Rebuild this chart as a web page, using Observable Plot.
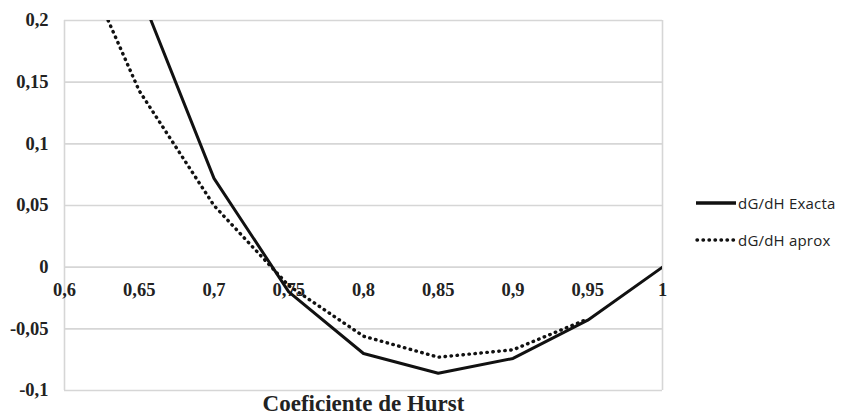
<!DOCTYPE html>
<html>
<head>
<meta charset="utf-8">
<script src="https://cdn.jsdelivr.net/npm/d3@7"></script>
<script src="https://cdn.jsdelivr.net/npm/@observablehq/plot@0.6"></script>
<style>
  html, body { margin: 0; padding: 0; background: #fff; }
  #wrap { position: relative; width: 843px; height: 415px; }
  #legend { position: absolute; left: 695px; top: 184px; font-family: "Open Sans", sans-serif; font-size: 15px; letter-spacing: 0.2px; color: #222; }
  #legend .row { display: flex; align-items: center; height: 37px; }
  #legend svg { margin-right: 1px; }
</style>
</head>
<body>
<div id="wrap"></div>
<script>
const hurst = [0.6, 0.65, 0.7, 0.75, 0.8, 0.85, 0.9, 0.95, 1];
const exactaX = [0.65, 0.7, 0.75, 0.8, 0.85, 0.9, 0.95, 1];
const exacta = [0.224, 0.072, -0.02, -0.070, -0.086, -0.074, -0.043, 0];
const aproxX = [0.6, 0.65, 0.7, 0.75, 0.8, 0.85, 0.9, 0.95];
const aprox = [0.28, 0.143, 0.05, -0.015, -0.056, -0.073, -0.067, -0.042];
const yTicks = [-0.1, -0.05, 0, 0.05, 0.1, 0.15, 0.2];
const seriesNames = ["dG/dH Exacta", "dG/dH aprox"];

const fmt = d => String(d).replace(".", ",");
const exData = exactaX.map((x, i) => ({x, y: exacta[i]}));
const apData = aproxX.map((x, i) => ({x, y: aprox[i]}));
const serif = "'Liberation Serif', 'Times New Roman', serif";
const grid = "#d6d6d6";

const chart = Plot.plot({
  width: 843,
  height: 415,
  marginLeft: 64,
  marginRight: 181,
  marginTop: 20,
  marginBottom: 25,
  x: {domain: [0.6, 1], axis: null},
  y: {domain: [-0.1, 0.2], axis: null},
  style: {background: "#fff"},
  marks: [
    Plot.ruleY(yTicks, {stroke: grid, strokeWidth: 1.6}),
    Plot.ruleX([0.6, 1], {stroke: grid, strokeWidth: 1.6}),
    Plot.text(yTicks, {x: 0.6, y: d => d, text: fmt, textAnchor: "end", dx: -16, fontFamily: serif, fontWeight: "bold", fontSize: 18.5, fill: "#222"}),
    Plot.text(hurst, {x: d => d, y: 0, text: fmt, dy: 23, fontFamily: serif, fontWeight: "bold", fontSize: 18.5, fill: "#222"}),
    Plot.line(apData, {x: "x", y: "y", stroke: "#111", strokeWidth: 3.4, strokeDasharray: "0.5,5.5", strokeLinecap: "round", clip: true}),
    Plot.line(exData, {x: "x", y: "y", stroke: "#111", strokeWidth: 3, clip: true}),
    Plot.text(["Coeficiente de Hurst"], {frameAnchor: "bottom", text: d => d, dy: 20, fontFamily: serif, fontWeight: "bold", fontSize: 23, fill: "#222"})
  ]
});

const wrap = document.getElementById("wrap");
wrap.appendChild(chart);

const legend = document.createElement("div");
legend.id = "legend";
legend.innerHTML = `
  <div class="row"><svg width="42" height="10"><line x1="1" y1="5" x2="41" y2="5" stroke="#111" stroke-width="3.5"/></svg><span>${seriesNames[0]}</span></div>
  <div class="row"><svg width="42" height="10"><line x1="2" y1="5" x2="40" y2="5" stroke="#111" stroke-width="3.4" stroke-dasharray="0.5,5.5" stroke-linecap="round"/></svg><span>${seriesNames[1]}</span></div>`;
wrap.appendChild(legend);
</script>
</body>
</html>
